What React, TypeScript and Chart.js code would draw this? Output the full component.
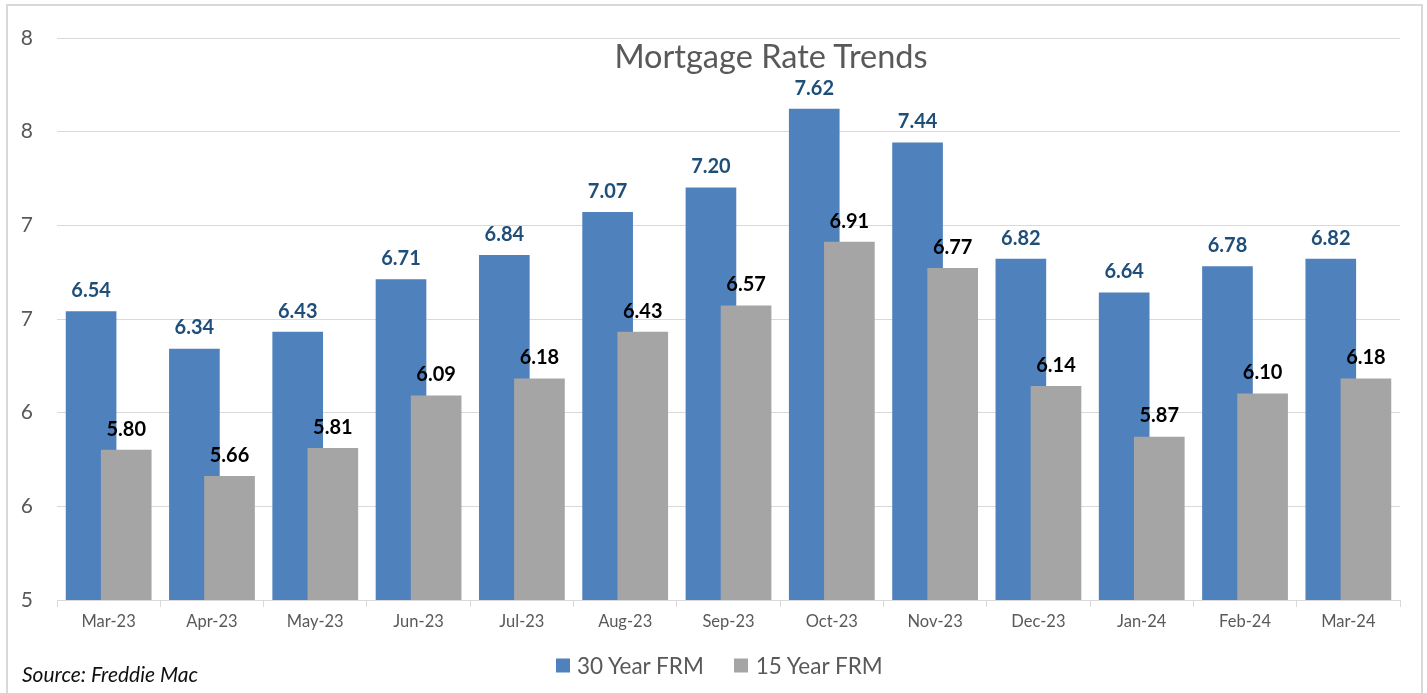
import React, { useEffect, useRef } from "react";
import { Chart, registerables } from "chart.js";

Chart.register(...registerables);

const categories = ["Mar-23", "Apr-23", "May-23", "Jun-23", "Jul-23", "Aug-23", "Sep-23", "Oct-23", "Nov-23", "Dec-23", "Jan-24", "Feb-24", "Mar-24"];
const frm30 = [6.54, 6.34, 6.43, 6.71, 6.84, 7.07, 7.2, 7.62, 7.44, 6.82, 6.64, 6.78, 6.82];
const frm15 = [5.8, 5.66, 5.81, 6.09, 6.18, 6.43, 6.57, 6.91, 6.77, 6.14, 5.87, 6.1, 6.18];
const seriesNames = ["30 Year FRM", "15 Year FRM"];
const yMin = 5;
const yMax = 8;
const yStep = 0.5;

const BLUE = "#4f81bd";
const GRAY = "#a5a5a5";
const FONT = "Lato, 'Liberation Sans', sans-serif";

const labelPlugin = {
  id: "valueLabels",
  afterDatasetsDraw(chart: any) {
    const ctx = chart.ctx;
    ctx.save();
    ctx.textAlign = "center";
    ctx.textBaseline = "middle";
    ctx.font = `bold 20px ${FONT}`;
    chart.data.datasets.forEach((ds: any, di: number) => {
      const meta = chart.getDatasetMeta(di);
      ctx.fillStyle = di === 0 ? "#1f4e79" : "#000000";
      meta.data.forEach((el: any, i: number) => {
        const v = ds.data[i].y as number;
        ctx.fillText(v.toFixed(2), el.x, el.y - 21);
      });
    });
    ctx.restore();
  },
};

export default function App() {
  const canvasRef = useRef<HTMLCanvasElement | null>(null);

  useEffect(() => {
    document.body.style.margin = "0";
    const canvas = canvasRef.current;
    if (!canvas) return;
    const chart = new Chart(canvas, {
      type: "bar",
      data: {
        labels: categories,
        datasets: [
          {
            label: seriesNames[0],
            data: frm30.map((v, i) => ({ x: i - 0.17, y: v })),
            backgroundColor: BLUE,
            borderWidth: 0,
            barThickness: 50,
            grouped: false,
            xAxisID: "xl",
            order: 2,
          },
          {
            label: seriesNames[1],
            data: frm15.map((v, i) => ({ x: i + 0.17, y: v })),
            backgroundColor: GRAY,
            borderWidth: 0,
            barThickness: 50,
            grouped: false,
            xAxisID: "xl",
            order: 1,
          },
        ],
      } as any,
      options: {
        responsive: false,
        animation: false,
        layout: { padding: { top: 38, right: 27, left: 0, bottom: 0 } },
        plugins: {
          legend: { display: false },
          title: { display: false },
          tooltip: { enabled: false },
        },
        scales: {
          x: {
            type: "category",
            labels: categories,
            offset: true,
            position: "bottom",
            grid: { offset: true, drawOnChartArea: false, drawTicks: true, tickLength: 7, color: "#d9d9d9" },
            border: { display: true, color: "#d9d9d9" },
            ticks: { color: "#595959", font: { family: FONT, size: 16.5 }, padding: 5, maxRotation: 0, autoSkip: false },
            afterFit: (s: any) => {
              s.height = 93;
            },
          },
          xl: {
            type: "linear",
            display: false,
            position: "bottom",
            offset: false,
            min: -0.5,
            max: categories.length - 0.5,
          },
          y: {
            type: "linear",
            min: yMin,
            max: yMax,
            beginAtZero: false,
            ticks: {
              stepSize: yStep,
              color: "#595959",
              font: { family: FONT, size: 21 },
              padding: 24,
              callback: (v: any) => String(Math.round(Number(v))),
            },
            grid: { color: "#d9d9d9", drawTicks: false, lineWidth: 1 },
            border: { display: false },
            afterFit: (s: any) => {
              s.width = 57;
            },
          },
        },
      } as any,
      plugins: [labelPlugin],
    });
    return () => chart.destroy();
  }, []);

  return (
    <div style={{ position: "relative", width: 1427, height: 693, overflow: "hidden", background: "#fff", fontFamily: FONT }}>
      <div
        style={{
          position: "absolute",
          left: 6,
          top: 4,
          width: 1413,
          height: 720,
          border: "2px solid #d9d9d9",
        }}
      />
      <canvas ref={canvasRef} width={1427} height={693} style={{ position: "absolute", left: 0, top: 0, display: "block" }} />
      <div
        style={{
          position: "absolute",
          left: 771,
          top: 55,
          transform: "translate(-50%, -50%)",
          fontSize: 32.5,
          color: "#595959",
          whiteSpace: "nowrap",
        }}
      >
        Mortgage Rate Trends
      </div>
      <div
        style={{
          position: "absolute",
          left: 22,
          top: 673,
          transform: "translateY(-50%)",
          fontSize: 21,
          fontStyle: "italic",
          color: "#111",
          whiteSpace: "nowrap",
        }}
      >
        Source: Freddie Mac
      </div>
      <div
        style={{
          position: "absolute",
          left: 556,
          top: 665,
          transform: "translateY(-50%)",
          display: "flex",
          alignItems: "center",
          fontSize: 22.5,
          color: "#595959",
          whiteSpace: "nowrap",
        }}
      >
        <span style={{ display: "inline-block", width: 14, height: 14, background: BLUE, marginRight: 7 }} />
        <span>{seriesNames[0]}</span>
        <span style={{ display: "inline-block", width: 14, height: 14, background: GRAY, marginLeft: 30, marginRight: 8 }} />
        <span>{seriesNames[1]}</span>
      </div>
    </div>
  );
}
